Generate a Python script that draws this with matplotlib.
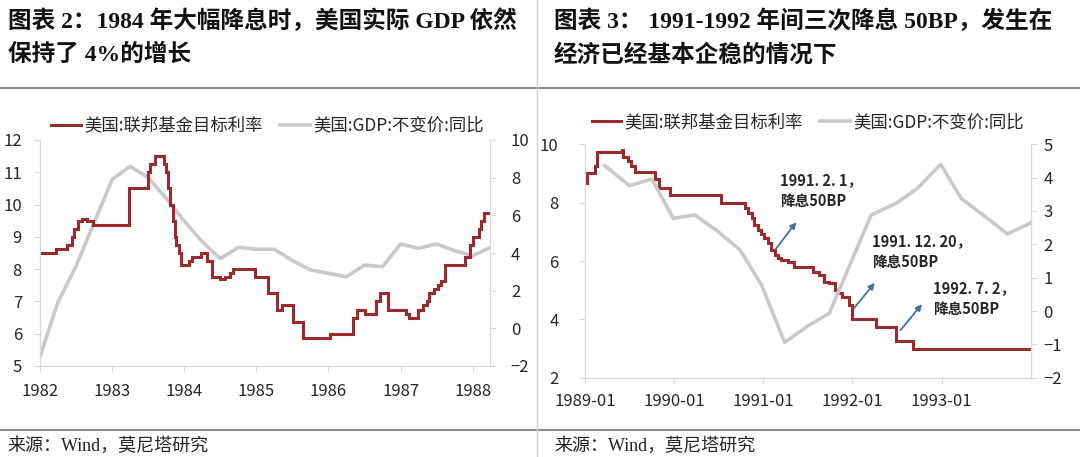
import matplotlib
matplotlib.use("Agg")
import matplotlib.pyplot as plt
from matplotlib.lines import Line2D
import numpy as np

plt.rcParams['font.family'] = ['Noto Sans CJK SC', 'DejaVu Sans']

# ---------------- data: left chart (1982-1988) ----------------
rate_l_years = [1982.00, 1982.22, 1982.37, 1982.44, 1982.47, 1982.52, 1982.58, 1982.65, 1982.74,
                1983.23, 1983.50, 1983.53, 1983.59, 1983.72, 1983.75, 1983.78, 1983.80, 1983.84,
                1983.87, 1983.89, 1983.93, 1983.96, 1984.07, 1984.11, 1984.23, 1984.31, 1984.38,
                1984.49, 1984.56, 1984.63, 1984.68, 1984.98, 1985.16, 1985.28, 1985.35, 1985.51,
                1985.64, 1986.02, 1986.34, 1986.39, 1986.50, 1986.66, 1986.72, 1986.82, 1987.08,
                1987.12, 1987.24, 1987.31, 1987.36, 1987.40, 1987.47, 1987.52, 1987.56, 1987.61,
                1987.89, 1987.96, 1988.00, 1988.09, 1988.12, 1988.16, 1988.23]
rate_l_values = [8.5, 8.625, 8.75, 9.0, 9.25, 9.5, 9.5625, 9.5, 9.375,
                 10.5, 11.0, 11.25, 11.5, 11.25, 11.0, 10.5, 10.0, 9.5,
                 9.0, 8.75, 8.5, 8.125, 8.25, 8.375, 8.5, 8.25, 7.75,
                 7.6875, 7.75, 7.875, 8.0, 7.75, 7.25, 6.75, 6.875, 6.375,
                 5.875, 6.0, 6.5, 6.75, 6.625, 7.0, 7.25, 6.75, 6.625,
                 6.5, 6.75, 6.875, 7.0, 7.25, 7.375, 7.5, 7.625, 8.125,
                 8.375, 8.75, 9.0, 9.25, 9.5, 9.75, 9.75]

gdp_l_years = [1982.00, 1982.25, 1982.50, 1982.75, 1983.00, 1983.25, 1983.50, 1983.75,
               1984.00, 1984.25, 1984.50, 1984.75, 1985.00, 1985.25, 1985.50, 1985.75,
               1986.00, 1986.25, 1986.50, 1986.75, 1987.00, 1987.25, 1987.50, 1987.75,
               1988.00, 1988.25]
gdp_l_values = [-1.5, 1.4, 3.3, 5.6, 7.9, 8.6, 8.0, 6.9,
                5.7, 4.6, 3.7, 4.3, 4.2, 4.2, 3.6, 3.1,
                2.92, 2.74, 3.36, 3.27, 4.48, 4.25, 4.48, 4.12,
                3.85, 4.3]
xticks_l = [1982, 1983, 1984, 1985, 1986, 1987, 1988]
xticklabels_l = ['1982', '1983', '1984', '1985', '1986', '1987', '1988']

# ---------------- data: right chart (1989-1993) ----------------
rate_r_years = [1989.00, 1989.02, 1989.11, 1989.14, 1989.41, 1989.43, 1989.48, 1989.52, 1989.56,
                1989.78, 1989.83, 1989.95, 1990.53, 1990.79, 1990.83, 1990.87, 1990.90, 1990.94,
                1990.98, 1991.01, 1991.05, 1991.09, 1991.13, 1991.16, 1991.20, 1991.28, 1991.35,
                1991.56, 1991.63, 1991.68, 1991.74, 1991.80, 1991.84, 1991.88, 1991.96, 1991.99,
                1992.27, 1992.49, 1992.68, 1993.99]
rate_r_values = [8.69, 9.0, 9.25, 9.75, 9.81, 9.56, 9.44, 9.25, 9.06,
                 8.81, 8.5, 8.25, 8.0, 7.81, 7.64, 7.46, 7.23, 7.06,
                 6.91, 6.78, 6.61, 6.38, 6.2, 6.09, 6.03, 5.95, 5.8,
                 5.63, 5.52, 5.29, 5.23, 5.0, 4.89, 4.75, 4.5, 4.0,
                 3.75, 3.25, 3.0, 3.0]

gdp_r_years = [1989.22, 1989.50, 1989.75, 1989.99, 1990.23, 1990.47, 1990.74, 1990.98,
               1991.24, 1991.50, 1991.74, 1991.99, 1992.21, 1992.49, 1992.73, 1992.99,
               1993.22, 1993.48, 1993.74, 1993.99]
gdp_r_values = [4.36, 3.76, 3.96, 2.78, 2.88, 2.43, 1.83, 0.78,
                -0.94, -0.45, -0.07, 1.5, 2.88, 3.23, 3.68, 4.4,
                3.38, 2.85, 2.31, 2.63]
xticks_r = [1989, 1990, 1991, 1992, 1993]
xticklabels_r = ['1989-01', '1990-01', '1991-01', '1992-01', '1993-01']

# annotations: (text, text pos (year, value), arrow tail, arrow head)
ann_texts = ['1991. 2. 1，\n降息50BP', '1991. 12. 20，\n降息50BP', '1992. 7. 2，\n降息50BP']
ann_text_pos = [(1991.19, 9.05), (1992.22, 6.95), (1992.90, 5.35)]
ann_tail = [(1991.14, 6.41), (1992.02, 4.39), (1992.54, 3.63)]
ann_head = [(1991.37, 7.33), (1992.25, 5.25), (1992.78, 4.52)]

legend_labels = ['美国:联邦基金目标利率', '美国:GDP:不变价:同比']

RED = '#9B2A2E'
GRAY = '#C9C9C9'
SPINE = '#D9D9D9'
TXT = '#262626'

W, H = 1080, 457
fig = plt.figure(figsize=(W / 100, H / 100), dpi=100)


def rect(l, t, r, b):
    return [l / W, 1 - b / H, (r - l) / W, (b - t) / H]


def style(ax, ax2, lpad, rpad):
    for a in (ax, ax2):
        for s in a.spines.values():
            s.set_color(SPINE)
            s.set_linewidth(0.8)
        a.spines['top'].set_visible(False)
        a.tick_params(colors=SPINE, labelcolor=TXT, labelsize=12, length=4, width=0.8)
    ax.tick_params(axis='y', pad=lpad)
    ax2.tick_params(axis='y', pad=rpad)


# ---------------- left chart ----------------
axL = fig.add_axes(rect(40, 140, 490, 366))
axL2 = axL.twinx()
l1, = axL.step(rate_l_years, rate_l_values, where='post', color=RED, lw=2.2, solid_joinstyle='miter')
l2, = axL2.plot(gdp_l_years, gdp_l_values, color=GRAY, lw=2.6)
axL.set_zorder(axL2.get_zorder() + 1)
axL.patch.set_visible(False)
axL.set_xlim(1982, 1988.24)
axL.set_ylim(5, 12)
axL2.set_ylim(-2, 10)
axL.set_yticks(range(5, 13))
axL2.set_yticks(range(-2, 11, 2))
axL.set_xticks(xticks_l)
axL.set_xticklabels(xticklabels_l)
style(axL, axL2, 9, 11)
axL.tick_params(axis='x', pad=8)
axL2.legend([l1, l2], legend_labels, loc='center', bbox_to_anchor=(0.506, 1.063), ncol=2,
            frameon=False, fontsize=12.5, handlelength=1.7, handletextpad=0.2, columnspacing=1.0,
            labelcolor=TXT)

# ---------------- right chart ----------------
axR = fig.add_axes(rect(585, 144.3, 1030.7, 377.7))
axR2 = axR.twinx()
r1, = axR.step(rate_r_years, rate_r_values, where='post', color=RED, lw=2.2, solid_joinstyle='miter')
r2, = axR2.plot(gdp_r_years, gdp_r_values, color=GRAY, lw=2.6)
axR.set_xlim(1989, 1994.0)
axR.set_ylim(2, 10)
axR2.set_ylim(-2, 5)
axR.set_yticks(range(2, 11, 2))
axR2.set_yticks(range(-2, 6))
axR.set_xticks(xticks_r)
axR.set_xticklabels(xticklabels_r)
style(axR, axR2, 15, 5)
axR.tick_params(axis='x', pad=7)
axR2.legend([r1, r2], legend_labels, loc='center', bbox_to_anchor=(0.5, 1.094), ncol=2,
            frameon=False, fontsize=12.5, handlelength=1.7, handletextpad=0.2, columnspacing=1.0,
            labelcolor=TXT)

for t, tp, tail, head in zip(ann_texts, ann_text_pos, ann_tail, ann_head):
    axR.text(tp[0], tp[1], t, ha='left', va='top', fontsize=10.5, fontweight='bold',
             color=TXT, linespacing=1.35, zorder=10)
    axR.annotate('', xy=head, xytext=tail,
                 arrowprops=dict(arrowstyle='-|>', color='#41729F', lw=1.3, mutation_scale=9,
                                 shrinkA=0, shrinkB=0), zorder=10)

# ---------------- titles, separators, sources ----------------
title_font = ['Liberation Serif', 'Noto Sans CJK SC']
fig.text(7.5 / W, 1 - 21 / H, '图表 2：1984 年大幅降息时，美国实际 GDP 依然', family=title_font,
         fontweight='bold', fontsize=17, va='center', ha='left', color='#111111')
fig.text(7.5 / W, 1 - 55 / H, '保持了 4%的增长', family=title_font,
         fontweight='bold', fontsize=17, va='center', ha='left', color='#111111')
fig.text(554 / W, 1 - 21 / H, '图表 3： 1991-1992 年间三次降息 50BP，发生在', family=title_font,
         fontweight='bold', fontsize=17, va='center', ha='left', color='#111111')
fig.text(554 / W, 1 - 55 / H, '经济已经基本企稳的情况下', family=title_font,
         fontweight='bold', fontsize=17, va='center', ha='left', color='#111111')

fig.text(7 / W, 1 - 446 / H, '来源：Wind，莫尼塔研究', family=title_font,
         fontsize=13, va='center', ha='left', color='#222222')
fig.text(554 / W, 1 - 446 / H, '来源：Wind，莫尼塔研究', family=title_font,
         fontsize=13, va='center', ha='left', color='#222222')

for yy in (87.5, 430):
    fig.add_artist(Line2D([0, 1], [1 - yy / H] * 2, transform=fig.transFigure,
                          color='#8C8C8C', lw=1.5))
fig.add_artist(Line2D([537 / W] * 2, [0, 1], transform=fig.transFigure, color='#CFCFCF', lw=1.0))

fig.savefig('out.png', dpi=100)
